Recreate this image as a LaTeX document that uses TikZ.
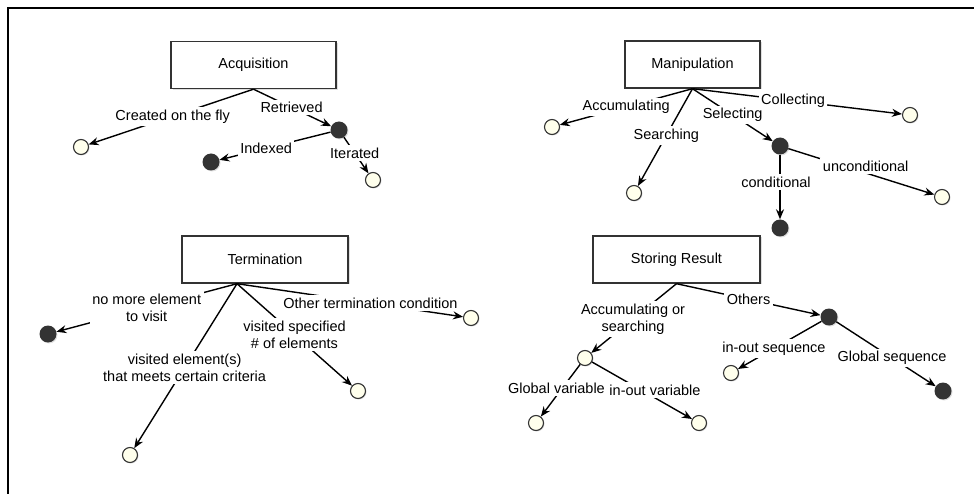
\documentclass[tikz,border=0pt]{standalone}
\usepackage{fontspec}
\setmainfont{Liberation Sans}
\usetikzlibrary{arrows.meta}
\usetikzlibrary{shadows}

\definecolor{cream}{HTML}{FFFFEC}
\definecolor{ink}{HTML}{333333}

\begin{document}
\begin{tikzpicture}[x=1pt,y=-1pt,
    >={Stealth[length=10pt,width=8pt]},
    every node/.style={font=\fontsize{14.5}{17.5}\selectfont},
    topic/.style={draw=ink,line width=1.4pt,fill=white,minimum width=#1,
      minimum height=47pt,
      drop shadow={opacity=.25,shadow xshift=1.5pt,shadow yshift=-1.5pt}},
    open/.style={circle,draw=ink,line width=1.1pt,fill=cream,minimum size=15pt,
      inner sep=0pt,drop shadow={opacity=.25,shadow xshift=1pt,shadow yshift=-1pt}},
    shut/.style={circle,fill=ink,minimum size=17pt,inner sep=0pt,
      drop shadow={opacity=.25,shadow xshift=1pt,shadow yshift=-1pt}},
    lbl/.style={fill=white,inner sep=2.5pt,align=center},
    link/.style={->,line width=1.4pt}]
  \useasboundingbox (0,0) rectangle (974,494);
  \draw[line width=2.2pt] (8,494) -- (8,8) -- (974,8);

  \node[topic=165pt] (acq) at (253.5,65) {Acquisition};
  \node[open] (fly) at (81,147) {};
  \node[shut] (ret) at (339,130) {};
  \node[shut] (idx) at (211,162) {};
  \node[open] (itr) at (373,180) {};
  \draw[link] (acq.south) -- node[lbl,pos=.49] (lfly) {Created on the fly} (fly);
  \draw[link] (acq.south) -- node[lbl,pos=.49] (lret) {Retrieved} (ret);
  \draw[link] (ret) -- node[lbl,pos=.58] (lidx) {Indexed} (idx);
  \draw[link] (ret) -- node[lbl,pos=.44] (litr) {Iterated} (itr);

  \node[topic=135pt] (man) at (692.5,64.5) {Manipulation};
  \node[open] (acc) at (552,127) {};
  \node[open] (sea) at (634,193) {};
  \node[shut] (sel) at (780,146) {};
  \node[open] (col) at (910,115) {};
  \node[shut] (cnd) at (780,228) {};
  \node[open] (unc) at (942,197) {};
  \draw[link] (man.south) -- node[lbl,pos=.50] (lacc) {Accumulating} (acc);
  \draw[link] (man.south) -- node[lbl,pos=.48] (lsea) {Searching} (sea);
  \draw[link] (man.south) -- node[lbl,pos=.50] (lsel) {Selecting} (sel);
  \draw[link] (man.south) -- node[lbl,pos=.48] (lcol) {Collecting} (col);
  \draw[link] (sel) -- node[lbl,pos=.42,xshift=-4pt] (lcnd) {conditional} (cnd);
  \draw[link] (sel) -- node[lbl,pos=.53,yshift=7pt] (lunc) {unconditional} (unc);

  \node[topic=166pt] (ter) at (265,259.5) {Termination};
  \coordinate (tfoot) at ([xshift=-28pt]ter.south);
  \node[shut] (nomore) at (48,334) {};
  \node[open] (crit) at (130,455) {};
  \node[open] (cnt) at (358,391) {};
  \node[open] (oth) at (471,318) {};
  \draw[link] (tfoot) -- node[lbl,pos=.50] (lnomore) {no more element\\to visit} (nomore);
  \draw[link] (tfoot) -- node[lbl,pos=.51] (lcrit) {visited element(s)\\that meets certain criteria} (crit);
  \draw[link] (tfoot) -- node[lbl,pos=.50] (lcnt) {visited specified\\\# of elements} (cnt);
  \draw[link] (tfoot) -- node[lbl,pos=.59] (loth) {Other termination condition} (oth);

  \node[topic=167pt] (sto) at (676.5,259.5) {Storing Result};
  \node[open] (aos) at (585,358) {};
  \node[shut] (others) at (829,317) {};
  \node[open] (gvar) at (536,423) {};
  \node[open] (iovar) at (699,423) {};
  \node[open] (ioseq) at (731,373) {};
  \node[shut] (gseq) at (943,391) {};
  \draw[link] (sto.south) -- node[lbl,pos=.51] (laos) {Accumulating or\\searching} (aos);
  \draw[link] (sto.south) -- node[lbl,pos=.50] (lothers) {Others} (others);
  \draw[link] (aos) -- node[lbl,pos=.45,xshift=-6pt] (lgvar) {Global variable} (gvar);
  \draw[link] (aos) -- node[lbl,pos=.63,yshift=8pt] (liovar) {in-out variable} (iovar);
  \draw[link] (others) -- node[lbl,pos=.57] (lioseq) {in-out sequence} (ioseq);
  \draw[link] (others) -- node[lbl,pos=.56] (lgseq) {Global sequence} (gseq);
\end{tikzpicture}
\end{document}
